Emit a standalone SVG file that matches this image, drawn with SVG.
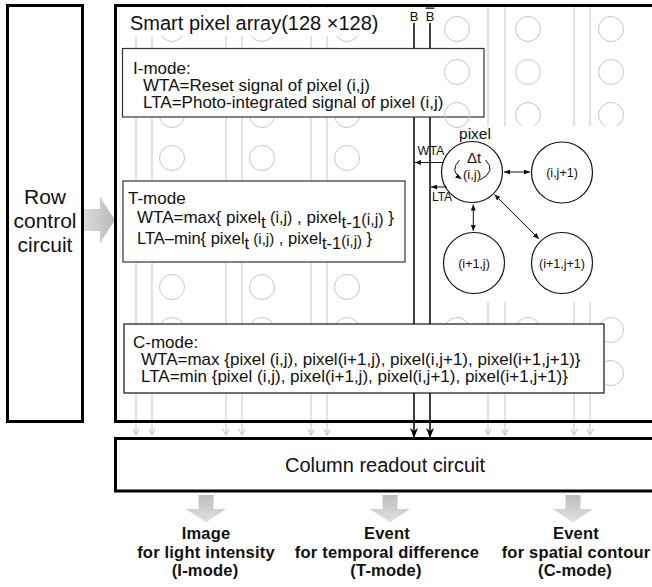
<svg xmlns="http://www.w3.org/2000/svg" width="652" height="587" viewBox="0 0 652 587">
<defs>
<style>
text{font-family:"Liberation Sans",Arial,Helvetica,sans-serif;fill:#111}
.grid line{stroke:#c6c6c6;stroke-width:1}
.grid circle{fill:none;stroke:#c6c6c6;stroke-width:1}
.thick{fill:none;stroke:#000;stroke-width:3}
.mode{fill:#fff;stroke:#333;stroke-width:1.2}
.t17{font-size:17px}
.pc{fill:#fff;stroke:#111;stroke-width:1.2}
.pt{font-size:12.5px;text-anchor:middle}
.bus{stroke:#111;stroke-width:1.6;fill:none}
.thin{stroke:#111;stroke-width:1;fill:none}
.gl{stroke:#c0c0c0;stroke-width:1;fill:none}
.out{font-size:16.5px;font-weight:bold;text-anchor:middle;letter-spacing:0.2px}
.big{font-size:20px;text-anchor:middle}
</style>
<marker id="busHead" viewBox="0 0 10 8" refX="10" refY="4" markerWidth="10" markerHeight="8" orient="auto" markerUnits="userSpaceOnUse">
<path d="M0,0 L10,4 L0,8 L3,4 Z" fill="#000"/>
</marker>
<marker id="sh" viewBox="0 0 6 5" refX="6" refY="2.5" markerWidth="6" markerHeight="5" orient="auto-start-reverse" markerUnits="userSpaceOnUse">
<path d="M0,0 L6,2.5 L0,5 Z" fill="#111"/>
</marker>
<marker id="chev" viewBox="0 0 7 8" refX="6.5" refY="4" markerWidth="7" markerHeight="8" orient="auto" markerUnits="userSpaceOnUse">
<path d="M0,0.5 L6.5,4 L0,7.5" fill="none" stroke="#bdbdbd" stroke-width="1"/>
</marker>
<linearGradient id="gh" x1="0" y1="0" x2="1" y2="0">
<stop offset="0" stop-color="#dcdcdc"/><stop offset="1" stop-color="#b9b9b9"/>
</linearGradient>
<linearGradient id="gv" x1="0" y1="0" x2="0" y2="1">
<stop offset="0" stop-color="#bdbdbd"/><stop offset="1" stop-color="#e2e2e2"/>
</linearGradient>
</defs>
<rect width="652" height="587" fill="#fff"/>

<g id="array-grid" class="grid">
<line x1="136" y1="5" x2="136" y2="421"/><line x1="152" y1="5" x2="152" y2="421"/>
<line x1="226" y1="5" x2="226" y2="421"/><line x1="242" y1="5" x2="242" y2="421"/>
<line x1="311" y1="5" x2="311" y2="421"/><line x1="327" y1="5" x2="327" y2="421"/>
<line x1="488" y1="5" x2="488" y2="421"/><line x1="505" y1="5" x2="505" y2="421"/>
<line x1="574" y1="5" x2="574" y2="421"/><line x1="590" y1="5" x2="590" y2="421"/>
<circle cx="172" cy="29" r="12.5"/><circle cx="262" cy="29" r="12.5"/><circle cx="347" cy="29" r="12.5"/><circle cx="457" cy="29" r="12.5"/><circle cx="528" cy="29" r="12.5"/><circle cx="611" cy="29" r="12.5"/>
<circle cx="528" cy="72" r="12.5"/><circle cx="611" cy="72" r="12.5"/>
<circle cx="172" cy="115" r="12.5"/><circle cx="262" cy="115" r="12.5"/><circle cx="347" cy="115" r="12.5"/><circle cx="528" cy="115" r="12.5"/><circle cx="611" cy="115" r="12.5"/>
<circle cx="172" cy="158" r="12.5"/><circle cx="262" cy="158" r="12.5"/><circle cx="347" cy="158" r="12.5"/>
<circle cx="172" cy="287" r="12.5"/><circle cx="262" cy="287" r="12.5"/><circle cx="347" cy="287" r="12.5"/>
<circle cx="172" cy="330" r="12.5"/><circle cx="262" cy="330" r="12.5"/><circle cx="347" cy="330" r="12.5"/><circle cx="457" cy="330" r="12.5"/><circle cx="528" cy="330" r="12.5"/><circle cx="611" cy="330" r="12.5"/>
<circle cx="611" cy="373" r="12.5"/>
</g>

<g id="array-title">
<rect x="124" y="8" width="258" height="28" fill="#fff"/>
<text x="130" y="30" style="font-size:20px">Smart pixel array(128 ×128)</text>
</g>

<rect x="432" y="126" width="222" height="176" fill="#fff"/>

<g id="connectors">
<line class="bus" x1="414" y1="23" x2="414" y2="438" marker-end="url(#busHead)"/>
<line class="bus" x1="430" y1="23" x2="430" y2="438" marker-end="url(#busHead)"/>
<text x="414" y="20.5" style="font-size:13px;text-anchor:middle">B</text>
<text x="430" y="20.5" style="font-size:13px;text-anchor:middle;text-decoration:overline">B</text>
<line class="gl" x1="136" y1="421" x2="136" y2="435" marker-end="url(#chev)"/>
<line class="gl" x1="152" y1="421" x2="152" y2="435" marker-end="url(#chev)"/>
<line class="gl" x1="226" y1="421" x2="226" y2="435" marker-end="url(#chev)"/>
<line class="gl" x1="242" y1="421" x2="242" y2="435" marker-end="url(#chev)"/>
<line class="gl" x1="311" y1="421" x2="311" y2="435" marker-end="url(#chev)"/>
<line class="gl" x1="327" y1="421" x2="327" y2="435" marker-end="url(#chev)"/>
<line class="gl" x1="488" y1="421" x2="488" y2="435" marker-end="url(#chev)"/>
<line class="gl" x1="505" y1="421" x2="505" y2="435" marker-end="url(#chev)"/>
<line class="gl" x1="574" y1="421" x2="574" y2="435" marker-end="url(#chev)"/>
<line class="gl" x1="590" y1="421" x2="590" y2="435" marker-end="url(#chev)"/>
<polygon points="84,209 100,209 100,197 115,220 100,243 100,231 84,231" fill="url(#gh)"/>
<polygon points="198.5,495 213.5,495 213.5,509 226,509 206,522.5 186,509 198.5,509" fill="url(#gv)"/>
<polygon points="382.5,495 397.5,495 397.5,509 410,509 390,522.5 370,509 382.5,509" fill="url(#gv)"/>
<polygon points="565.5,495 580.5,495 580.5,509 593,509 573,522.5 553,509 565.5,509" fill="url(#gv)"/>
</g>

<g id="i-mode">
<rect class="mode" x="122.5" y="48.5" width="361.5" height="68.5"/>
<text class="t17" x="133" y="74">I-mode:<tspan x="143" y="91">WTA=Reset signal of pixel (i,j)</tspan><tspan x="143" y="108">LTA=Photo-integrated signal of pixel (i,j)</tspan></text>
</g>
<g id="i-mode-overlay" class="grid">
<circle cx="457" cy="72" r="12.5"/><circle cx="457" cy="115" r="12.5"/>
</g>

<g id="t-mode">
<rect class="mode" x="123" y="181" width="282" height="81"/>
<text class="t17" x="128" y="204">T-mode<tspan x="137" y="223">WTA=max{ pixel</tspan><tspan dy="5">t</tspan><tspan dy="-5" style="font-size:16px"> (i,j)</tspan> , pixel<tspan dy="5">t-1</tspan><tspan dy="-3" style="font-size:16px">(i,j)</tspan><tspan dy="-2"> }</tspan><tspan x="137" y="244" style="font-size:16.5px">LTA–min{ pixel</tspan><tspan dy="5" style="font-size:16.5px">t</tspan><tspan dy="-5" style="font-size:15px"> (i,j)</tspan><tspan style="font-size:16.5px"> , pixel</tspan><tspan dy="5" style="font-size:16.5px">t-1</tspan><tspan dy="-3" style="font-size:15px">(i,j)</tspan><tspan dy="-2" style="font-size:16.5px"> }</tspan></text>
</g>

<g id="c-mode">
<rect class="mode" x="124" y="324" width="480" height="69" style="stroke:#111"/>
<text class="t17" x="133" y="348">C-mode:<tspan x="141" y="365">WTA=max {pixel (i,j), pixel(i+1,j), pixel(i,j+1), pixel(i+1,j+1)}</tspan><tspan x="141" y="382">LTA=min {pixel (i,j), pixel(i+1,j), pixel(i,j+1), pixel(i+1,j+1)}</tspan></text>
</g>

<g id="pixel-detail">
<text x="475" y="139" style="font-size:15.5px;text-anchor:middle">pixel</text>
<g id="pixel-ij">
<circle class="pc" cx="472" cy="172" r="30.5"/>
<text x="474" y="162.5" style="font-size:15px;text-anchor:middle">Δt</text>
<text x="472" y="178.5" style="font-size:13px;text-anchor:middle">(i,j)</text>
<path class="thin" d="M459.5,160 Q449,171 461.5,179" marker-end="url(#sh)"/>
<path class="thin" d="M485.5,160 Q497,171 480,180"/>
</g>
<g id="pixel-ij1"><circle class="pc" cx="562" cy="172.5" r="30.5"/><text class="pt" x="562" y="177">(i,j+1)</text></g>
<g id="pixel-i1j"><circle class="pc" cx="474" cy="263" r="30.5"/><text class="pt" x="474" y="267.5">(i+1,j)</text></g>
<g id="pixel-i1j1"><circle class="pc" cx="562" cy="263" r="30.5"/><text class="pt" x="562" y="267.5">(i+1,j+1)</text></g>
<line class="thin" x1="504" y1="172" x2="530" y2="172" marker-start="url(#sh)" marker-end="url(#sh)"/>
<line class="thin" x1="473.3" y1="204.5" x2="473.3" y2="231" marker-start="url(#sh)" marker-end="url(#sh)"/>
<line class="thin" x1="494.5" y1="194.5" x2="539" y2="239" marker-start="url(#sh)" marker-end="url(#sh)"/>
<line class="thin" x1="443" y1="162.5" x2="415" y2="162.5" marker-end="url(#sh)"/>
<line class="thin" x1="446.5" y1="187" x2="431" y2="187" marker-end="url(#sh)"/>
<text x="431" y="155" style="font-size:12.5px;text-anchor:middle">WTA</text>
<text x="442" y="201" style="font-size:12px;text-anchor:middle">LTA</text>
</g>

<g id="pixel-array"><rect class="thick" x="115.5" y="5.5" width="550" height="416"/></g>

<g id="row-control">
<rect class="thick" x="7.5" y="5.5" width="75" height="416"/>
<text class="big" style="font-size:21px" x="45" y="203.5">Row<tspan x="45" dy="24">control</tspan><tspan x="45" dy="24">circuit</tspan></text>
</g>

<g id="column-readout">
<rect class="thick" x="115.5" y="438.5" width="550" height="52.5"/>
<text class="big" x="385" y="472">Column readout circuit</text>
</g>

<g id="out-image"><text class="out" x="206" y="539">Image<tspan x="206" dy="18.5">for light intensity</tspan><tspan x="205" dy="18.5">(I-mode)</tspan></text></g>
<g id="out-temporal"><text class="out" x="387" y="539">Event<tspan x="387" dy="18.5">for temporal difference</tspan><tspan x="386" dy="18.5">(T-mode)</tspan></text></g>
<g id="out-spatial"><text class="out" x="576" y="539">Event<tspan x="576" dy="18.5">for spatial contour</tspan><tspan x="575" dy="18.5">(C-mode)</tspan></text></g>
</svg>
